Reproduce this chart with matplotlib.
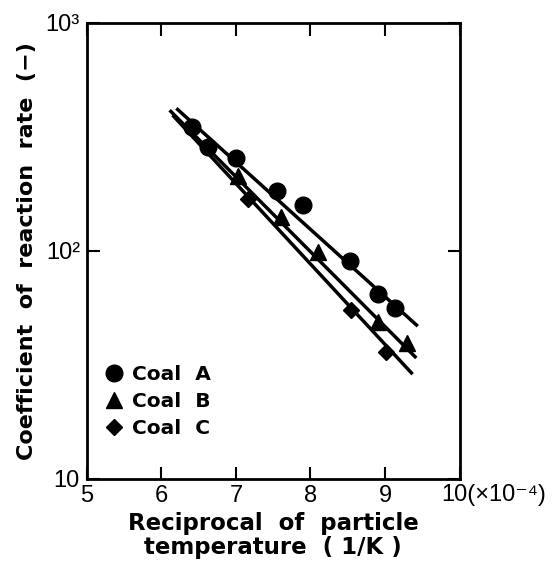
import matplotlib.pyplot as plt

# data (x in 1e-4 1/K)
coal_a_x = [6.41, 6.63, 7.00, 7.55, 7.90, 8.53, 8.91, 9.13]
coal_a_y = [347, 285, 254, 183, 158, 90, 64.5, 55.8]
coal_b_x = [7.03, 7.61, 8.10, 8.91, 9.29]
coal_b_y = [212, 141, 99, 48.7, 39.2]
coal_c_x = [7.16, 8.55, 9.02]
coal_c_y = [169, 54.8, 36.0]

# fitted lines (end points)
line_a_x = [6.20, 9.44]
line_a_y = [421, 46.6]
line_b_x = [6.11, 9.42]
line_b_y = [413, 33.8]
line_c_x = [6.15, 9.37]
line_c_y = [393, 28.7]

xticks = [5, 6, 7, 8, 9, 10]
xticklabels = ['5', '6', '7', '8', '9', '']
yticks = [10, 100, 1000]
yticklabels = ['10', '10²', '10³']

tick_font = ['Liberation Sans', 'DejaVu Sans']

fig = plt.figure(figsize=(5.57, 5.67), dpi=100)
ax = fig.add_axes([0.156, 0.156, 0.669, 0.804])

ax.plot(line_a_x, line_a_y, color='black', lw=2.5, solid_capstyle='butt')
ax.plot(line_b_x, line_b_y, color='black', lw=2.5, solid_capstyle='butt')
ax.plot(line_c_x, line_c_y, color='black', lw=2.5, solid_capstyle='butt')

ax.plot(coal_a_x, coal_a_y, 'o', color='black', ms=12, label='Coal  A')
ax.plot(coal_b_x, coal_b_y, '^', color='black', ms=11, label='Coal  B')
ax.plot(coal_c_x, coal_c_y, 'D', color='black', ms=8.5, label='Coal  C')

ax.set_yscale('log')
ax.set_xlim(5, 10)
ax.set_ylim(10, 1000)

ax.set_xticks(xticks)
ax.set_xticklabels(xticklabels, family=tick_font, fontsize=17)
ax.set_yticks(yticks)
ax.set_yticklabels(yticklabels, family=tick_font, fontsize=17)
ax.yaxis.set_minor_locator(plt.NullLocator())
ax.tick_params(direction='in', length=9, width=1.5, top=True, right=True, pad=5)

for s in ax.spines.values():
    s.set_linewidth(2)

ax.text(0.952, -0.012, '10(×10⁻⁴)', transform=ax.transAxes, family=tick_font,
        fontsize=17, ha='left', va='top', clip_on=False)

ax.set_xlabel('Reciprocal  of  particle\ntemperature  ( 1/K )', fontsize=16.5,
              fontweight='bold', linespacing=1.1, labelpad=3)
ax.set_ylabel('Coefficient  of  reaction  rate  (−)', fontsize=16,
              fontweight='bold', labelpad=6)

leg = ax.legend(loc='upper left', bbox_to_anchor=(0.045, 0.25), frameon=False,
                borderaxespad=0, borderpad=0, handlelength=1.0, handletextpad=0.4,
                labelspacing=0.42, prop={'weight': 'bold', 'size': 14.5})

fig.savefig('out.png', dpi=100)
